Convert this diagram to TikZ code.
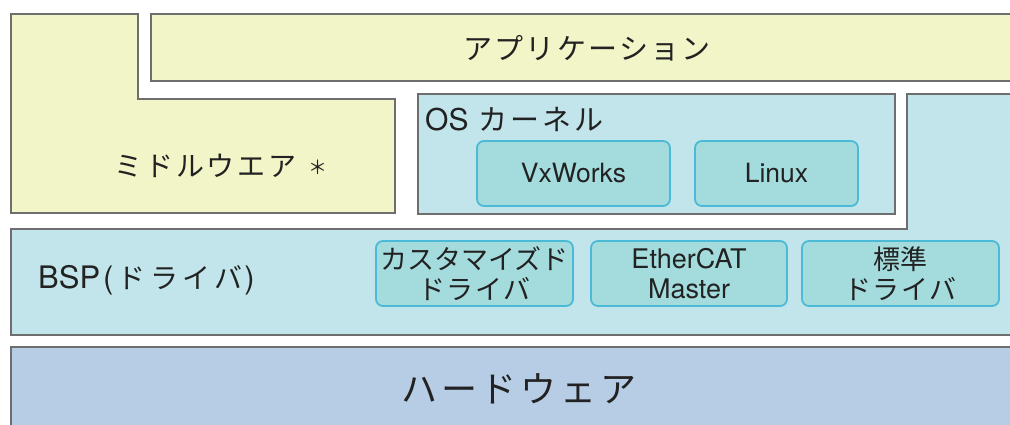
\documentclass[tikz,border=0pt]{standalone}
\usepackage{fontspec}
\setmainfont{TeX Gyre Heros}
\newfontfamily\jp{Noto Sans CJK JP}
\definecolor{edgegray}{HTML}{6E6E6E}
\definecolor{yel}{HTML}{F2F5C8}
\definecolor{cyanl}{HTML}{C1E5EB}
\definecolor{drvfill}{HTML}{A4DBDD}
\definecolor{drvedge}{HTML}{4BBAD6}
\definecolor{hwfill}{HTML}{B7CDE5}
\definecolor{txt}{HTML}{222222}
\tikzset{
  layer/.style={draw=edgegray, line width=1.8pt},
  drv/.style={draw=drvedge, fill=drvfill, line width=1.8pt, rounded corners=7pt,
    minimum height=65pt, inner sep=0pt, align=center, text=txt,
    font=\fontsize{27}{30}\selectfont},
  lbl/.style={inner sep=0pt, text=txt}
}
\begin{document}
\begin{tikzpicture}[x=1pt,y=-1pt]
\path[use as bounding box] (0,0) rectangle (1010,425);
\clip (0,0) rectangle (1010,425);
% layers
\draw[layer, fill=yel] (11,14) -- (138,14) -- (138,99) -- (395,99) -- (395,213) -- (11,213) -- cycle;
\draw[layer, fill=yel] (151,14) rectangle (1030,81);
\draw[layer, fill=cyanl] (418,94) rectangle (895,214);
\draw[layer, fill=cyanl] (11,229) -- (907,229) -- (907,94) -- (1030,94) -- (1030,335) -- (11,335) -- cycle;
\draw[layer, fill=hwfill] (11,347) rectangle (1030,440);
% labels
\node[lbl, font=\jp\fontsize{29}{34}\selectfont\addfontfeature{LetterSpace=8}] (app) at (587,48) {アプリケーション};
\node[lbl, font=\jp\fontsize{28}{32}\selectfont] (mid) at (221,166)
  {{\addfontfeature{LetterSpace=10}ミドルウエア}\hspace{12pt}\raisebox{2pt}{\fontsize{19}{22}\selectfont ＊}};
\node[lbl, anchor=base west, font=\fontsize{30}{34}\selectfont] (os) at (425,131)
  {OS\hspace{10pt}{\jp\fontsize{29}{32}\selectfont\addfontfeature{LetterSpace=10}カーネル}};
\node[lbl, anchor=base west, font=\fontsize{31}{36}\selectfont] (bsp) at (38,288)
  {BSP\hspace{3pt}(\hspace{4pt}{\jp\fontsize{28}{32}\selectfont\addfontfeature{LetterSpace=16}ドライバ}\hspace{2pt})};
\node[lbl, font=\jp\fontsize{36}{40}\selectfont\addfontfeature{LetterSpace=11}] (hw) at (519,389) {ハードウェア};
% OS boxes
\node[drv, minimum width=193pt, font=\fontsize{26.5}{30}\selectfont] (vx) at (573.5,173.5) {VxWorks};
\node[drv, minimum width=163pt, font=\fontsize{26.5}{30}\selectfont] (linux) at (776.5,173.5) {Linux};
% driver boxes
\node[drv, minimum width=197pt] (cust) at (474.5,273.5) {{\jp カスタマイズド}\\{\jp\addfontfeature{LetterSpace=6}ドライバ}};
\node[drv, minimum width=196pt] (ecat) at (689,273.5) {EtherCAT\\Master};
\node[drv, minimum width=197pt] (std) at (900.5,273.5) {{\jp 標準}\\{\jp\addfontfeature{LetterSpace=6}ドライバ}};
\end{tikzpicture}
\end{document}
